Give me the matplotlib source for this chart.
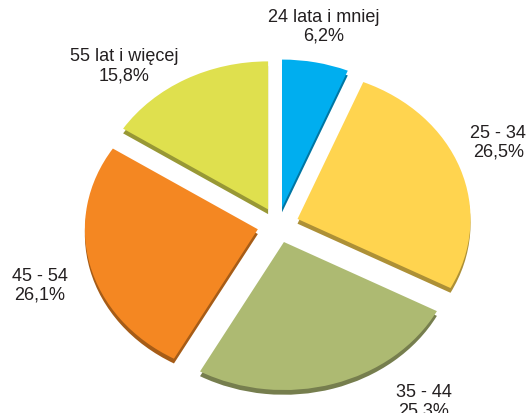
import matplotlib.pyplot as plt
import matplotlib.colors as mcolors

plt.rcParams['font.family'] = ['Liberation Sans', 'DejaVu Sans']

# age groups and their shares (%)
groups = ['24 lata i mniej', '25 - 34', '35 - 44', '45 - 54', '55 lat i więcej']
shares = [6.2, 26.5, 25.3, 26.1, 15.8]
colors = ['#00AEEF', '#FFD44F', '#ADBA72', '#F48722', '#DFE04E']

# label anchors in axes fraction
label_pos = [(0.61, 0.935), (0.94, 0.655), (0.80, 0.03), (0.075, 0.31), (0.235, 0.84)]

explode = [0.12] * len(shares)
depth = 0.032


def darker(c, f=0.68):
    r, g, b = mcolors.to_rgb(c)
    return (r * f, g * f, b * f)


fig = plt.figure(figsize=(5.3, 4.14), dpi=100)
ax = fig.add_axes([0, 0, 1, 1])

# side of the slices: same pie shifted down in a darker tone
ax.pie(shares, colors=[darker(c) for c in colors], explode=explode,
       startangle=90, counterclock=False, center=(0, -depth),
       wedgeprops=dict(linewidth=0))
ax.pie(shares, colors=colors, explode=explode,
       startangle=90, counterclock=False, center=(0, 0),
       wedgeprops=dict(linewidth=0))

ax.set_aspect('auto')
ax.set_xlim(-278 / 173, 252 / 173)
ax.set_ylim(-188 / 148, 226 / 148)
ax.axis('off')

for name, v, (x, y) in zip(groups, shares, label_pos):
    ax.text(x, y, name + '\n' + f'{v:.1f}'.replace('.', ',') + '%',
            transform=ax.transAxes, ha='center', va='center',
            fontsize=13, color='#231F20', linespacing=1.15)

fig.savefig('out.png', dpi=100)
